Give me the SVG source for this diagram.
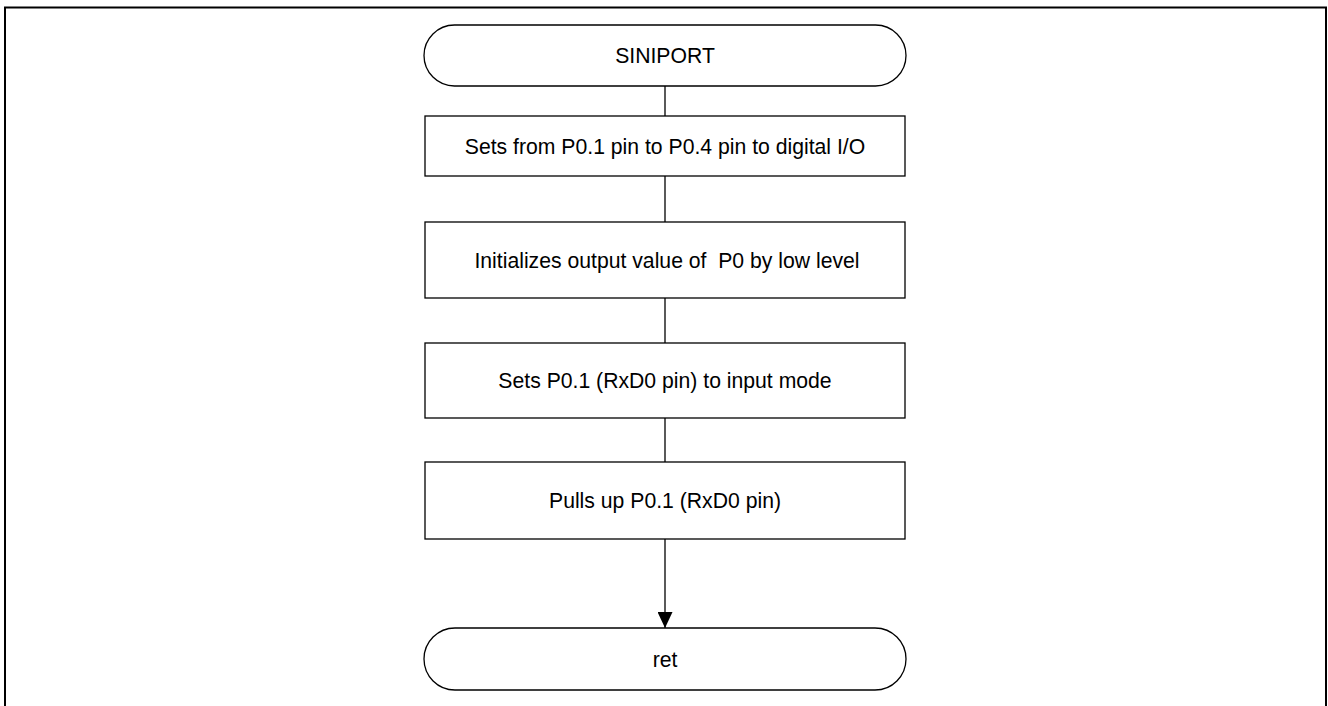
<svg xmlns="http://www.w3.org/2000/svg" width="1328" height="706" viewBox="0 0 1328 706">
<style>
.shape{fill:#fff;stroke:#000;stroke-width:1.3}
.lbl{font-family:"Liberation Sans",Arial,sans-serif;font-size:21.2px;fill:#000;text-anchor:middle;white-space:pre}
.conn{stroke:#000;stroke-width:1.3;fill:none}
</style>
<defs>
<marker id="arr" viewBox="0 0 16 15" refX="16" refY="7.5" markerWidth="16" markerHeight="15" markerUnits="userSpaceOnUse" orient="auto">
<path d="M0,0 L16,7.5 L0,15 Z" fill="#000"/>
</marker>
</defs>
<rect x="5" y="7.5" width="1321" height="720" fill="none" stroke="#000" stroke-width="2"/>
<g id="connectors">
<line class="conn" x1="665" y1="86" x2="665" y2="116"/>
<line class="conn" x1="665" y1="176" x2="665" y2="222"/>
<line class="conn" x1="665" y1="298" x2="665" y2="343"/>
<line class="conn" x1="665" y1="418" x2="665" y2="462"/>
<line class="conn" x1="665" y1="539" x2="665" y2="628" marker-end="url(#arr)"/>
</g>
<g id="start">
<rect class="shape" x="424" y="25" width="482" height="61" rx="30.5" ry="30.5"/>
<text class="lbl" x="665" y="63">SINIPORT</text>
</g>
<g id="step1">
<rect class="shape" x="425" y="116" width="480" height="60"/>
<text class="lbl" x="665" y="153.5">Sets from P0.1 pin to P0.4 pin to digital I/O</text>
</g>
<g id="step2">
<rect class="shape" x="425" y="222" width="480" height="76"/>
<text class="lbl" x="667" y="267.5" xml:space="preserve">Initializes output value of  P0 by low level</text>
</g>
<g id="step3">
<rect class="shape" x="425" y="343" width="480" height="75"/>
<text class="lbl" x="665" y="388">Sets P0.1 (RxD0 pin) to input mode</text>
</g>
<g id="step4">
<rect class="shape" x="425" y="462" width="480" height="77"/>
<text class="lbl" x="665" y="508">Pulls up P0.1 (RxD0 pin)</text>
</g>
<g id="end">
<rect class="shape" x="424" y="628" width="482" height="62" rx="31" ry="31"/>
<text class="lbl" x="665" y="666.5">ret</text>
</g>
</svg>
